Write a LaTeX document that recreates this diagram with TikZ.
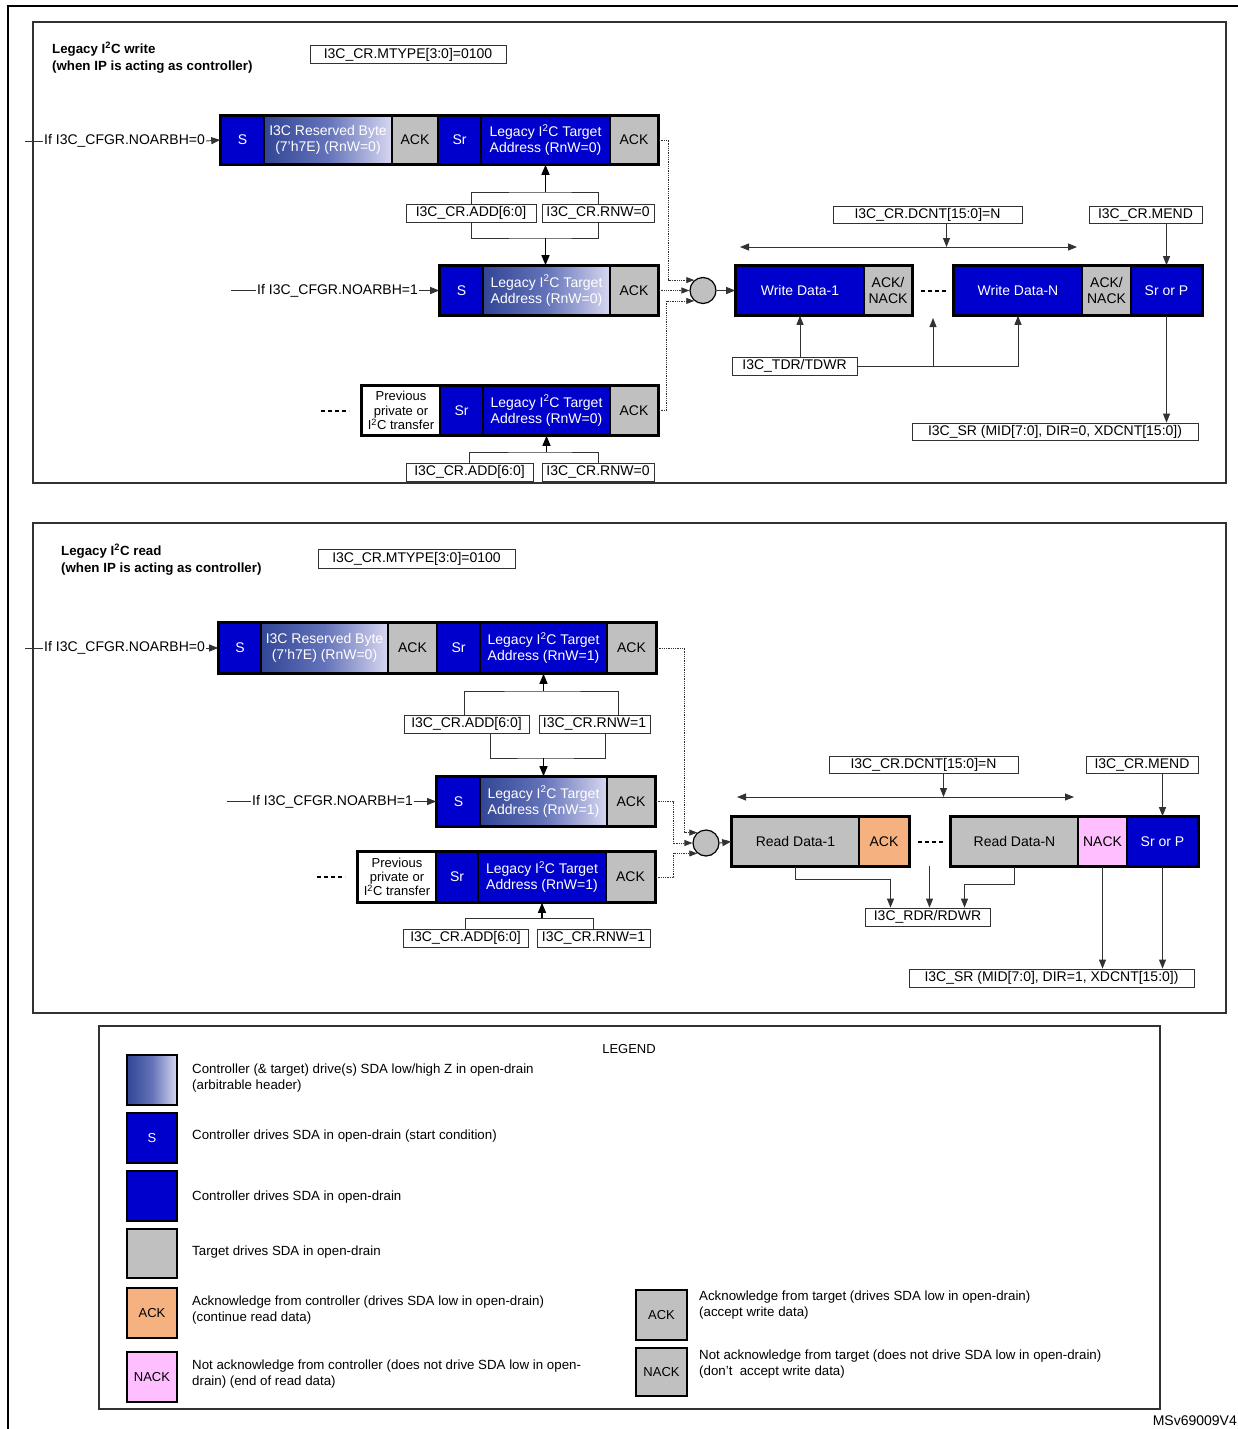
\documentclass[tikz,border=0pt]{standalone}
\usepackage{fontspec}
\setmainfont{Liberation Sans}
\usetikzlibrary{arrows.meta}
\definecolor{cblue}{RGB}{0,0,205}
\definecolor{cgray}{RGB}{192,192,192}
\definecolor{corange}{RGB}{245,178,128}
\definecolor{cpink}{RGB}{255,190,255}
\definecolor{gL}{RGB}{50,70,150}
\definecolor{gM}{RGB}{100,115,185}
\definecolor{gR}{RGB}{215,215,240}
\definecolor{lnc}{RGB}{50,50,50}
\newcommand\blk[7]{\node[#1, minimum width={(#4)-(#3)}, minimum height={(#6)-(#5)}] (#2) at ({((#3)+(#4))/2},{((#5)+(#6))/2}) {#7};}
\tikzset{
 seg/.style={draw=black, line width=1.6pt, inner sep=0pt, align=center, font=\fontsize{14}{16}\selectfont},
 sb/.style={seg, fill=cblue, text=white},
 sg/.style={seg, fill=cgray, text=black},
 sgr/.style={seg, left color=gL, right color=gR, middle color=gM, text=white},
 sw/.style={seg, fill=white, text=black, font=\fontsize{13}{14.3}\selectfont},
 so/.style={seg, fill=corange, text=black},
 sp/.style={seg, fill=cpink, text=black},
 reg/.style={draw=lnc, line width=0.8pt, fill=white, inner sep=0pt, font=\fontsize{14}{16}\selectfont},
 arr/.style={draw=lnc, line width=0.9pt, -{Triangle[length=9pt,width=7pt]}},
 darr/.style={draw=lnc, line width=0.9pt, {Triangle[length=9pt,width=7pt]}-{Triangle[length=9pt,width=7pt]}},
 barr/.style={draw=black, line width=1.2pt, -{Triangle[length=10pt,width=8pt]}},
 lin/.style={draw=lnc, line width=0.9pt},
 dotc/.style={draw=lnc, line width=0.8pt, densely dotted, -{Triangle[length=8pt,width=6pt]}},
 panel/.style={draw=lnc, line width=1.2pt},
 outer/.style={draw=black, line width=2.6pt},
 lbl/.style={inner sep=1pt, font=\fontsize{14}{16}\selectfont},
 ttl/.style={inner sep=0pt, align=left, font=\bfseries\fontsize{13.3}{16.2}\selectfont, anchor=north west},
 dashes/.style={line width=2pt, dash pattern=on 4pt off 3pt},
 circ/.style={circle, draw=black, line width=1.2pt, fill=cgray, minimum size=26pt, inner sep=0pt},
 lg/.style={seg, line width=2.4pt, font=\fontsize{13}{15}\selectfont},
 lgt/.style={anchor=west, inner sep=0pt, align=left, font=\fontsize{13.3}{16}\selectfont},
}
\begin{document}
\begin{tikzpicture}[x=1pt,y=-1pt]
\useasboundingbox (0,0) rectangle (1238,1429);
% outer frame
\draw[line width=2.5pt] (8,1429) -- (8,6) -- (1238,6);

% ================= PANEL 1 (write) =================
\draw[panel] (33,22) rectangle (1226,483);
\node[ttl] (wti) at (52,42) {Legacy I\textsuperscript{2}C write\\(when IP is acting as controller)};
\node[reg, minimum width=196pt, minimum height=18pt] (wmt) at (408,54.5) {I3C\_CR.MTYPE[3:0]=0100};

% row 1
\blk{sb}{wa1}{221}{264}{116}{164}{S}
\blk{sgr}{wa2}{264}{392}{116}{164}{I3C Reserved Byte\\(7'h7E) (RnW=0)}
\blk{sg}{wa3}{392}{438}{116}{164}{ACK}
\blk{sb}{wa4}{438}{481}{116}{164}{Sr}
\blk{sb}{wa5}{481}{610}{116}{164}{Legacy I\textsuperscript{2}C Target\\Address (RnW=0)}
\blk{sg}{wa6}{610}{658}{116}{164}{ACK}
\draw[outer] (wa1.north west) rectangle (wa6.south east);
\coordinate (wl1s) at (25,141);
\node[lbl, anchor=west] (wl1) at (43,141) {If I3C\_CFGR.NOARBH=0};
\draw[lin] (wl1s) -- (wl1.west);
\draw[arr] (wl1.east) -- (wa1.west);

% brackets row1 -> row2
\node[reg, minimum width=130pt, minimum height=18pt] (wadd1) at (471,213) {I3C\_CR.ADD[6:0]};
\node[reg, minimum width=112pt, minimum height=18pt] (wrnw1) at (598,213) {I3C\_CR.RNW=0};
\coordinate (wj1) at (545.5,192);
\coordinate (wj2) at (545.5,238);
\draw[lin] (wadd1.north) |- (wj1) -| (wrnw1.north);
\draw[barr] (wj1) -- (wa5.south);
\draw[lin] (wadd1.south) |- (wj2) -| (wrnw1.south);

% row 2
\blk{sb}{wb1}{440}{483}{266}{315}{S}
\blk{sgr}{wb2}{483}{610}{266}{315}{Legacy I\textsuperscript{2}C Target\\Address (RnW=0)}
\blk{sg}{wb3}{610}{658}{266}{315}{ACK}
\draw[outer] (wb1.north west) rectangle (wb3.south east);
\draw[barr] (wj2) -- (wj2 |- wb2.north);
\coordinate (wl2s) at (231,290.5);
\node[lbl, anchor=west] (wl2) at (256,290.5) {If I3C\_CFGR.NOARBH=1};
\draw[lin] (wl2s) -- (wl2.west);
\draw[arr] (wl2.east) -- (wb1.west);

% row 3
\blk{sw}{wc0}{362}{440}{386}{435}{Previous\\private or\\I\textsuperscript{2}C transfer}
\blk{sb}{wc1}{440}{483}{386}{435}{Sr}
\blk{sb}{wc2}{483}{610}{386}{435}{Legacy I\textsuperscript{2}C Target\\Address (RnW=0)}
\blk{sg}{wc3}{610}{658}{386}{435}{ACK}
\draw[outer] (wc0.north west) rectangle (wc3.south east);
\draw[dashes] ([xshift=-40pt]wc0.west) -- ([xshift=-12pt]wc0.west);
\node[reg, minimum width=127pt, minimum height=18pt] (wadd3) at (469.5,472) {I3C\_CR.ADD[6:0]};
\node[reg, minimum width=112pt, minimum height=18pt] (wrnw3) at (598,472) {I3C\_CR.RNW=0};
\coordinate (wj3) at (546.5,452);
\draw[lin] (wadd3.north) |- (wj3) -| (wrnw3.north);
\draw[barr] (wj3) -- (wc2.south);

% merge circle
\node[circ] (wcirc) at (703,290.5) {};
\draw[dotc] (wa6.east) -- ++(10,0) |- (wcirc.130);
\draw[dotc] (wb3.east) -- (wcirc.west);
\draw[dotc] (wc3.east) -- ++(8,0) |- (wcirc.230);

% data row
\blk{sb}{wd1}{736}{864}{266}{315}{Write Data-1}
\blk{sg}{wd2}{864}{912}{266}{315}{ACK/\\NACK}
\blk{sb}{wd3}{954}{1082}{266}{315}{Write Data-N}
\blk{sg}{wd4}{1082}{1131}{266}{315}{ACK/\\NACK}
\blk{sb}{wd5}{1131}{1202}{266}{315}{Sr or P}
\draw[outer] (wd1.north west) rectangle (wd2.south east);
\draw[outer] (wd3.north west) rectangle (wd5.south east);
\draw[dashes] ([xshift=8pt]wd2.east) -- ([xshift=-7pt]wd3.west);
\draw[arr] (wcirc.east) -- (wd1.west);

\node[reg, minimum width=189pt, minimum height=17pt] (wdc) at (927.5,215) {I3C\_CR.DCNT[15:0]=N};
\node[reg, minimum width=113pt, minimum height=17pt] (wme) at (1145.5,215) {I3C\_CR.MEND};
\coordinate (wdl) at (740,247);
\coordinate (wdr) at (1077,247);
\draw[darr] (wdl) -- (wdr);
\coordinate (wdca) at ([xshift=19pt]wdc.south);
\draw[arr] (wdca) -- (wdca |- wdl);
\draw[arr] (wd5.north |- wme.south) -- (wd5.north);

\node[reg, minimum width=286pt, minimum height=17pt] (wsr) at (1055,431.5) {I3C\_SR (MID[7:0], DIR=0, XDCNT[15:0])};
\draw[arr] (wd5.south) -- (wd5.south |- wsr.north);

\node[reg, minimum width=125pt, minimum height=18pt] (wtd) at (794.5,366) {I3C\_TDR/TDWR};
\draw[arr] (wd1.south |- wtd.north) -- (wd1.south);
\coordinate (wgap) at (933,318);
\draw[arr] (wtd.east) -- (wd3.south |- wtd.east) -- (wd3.south);
\draw[arr] (wgap |- wtd.east) -- (wgap);

% ================= PANEL 2 (read) =================
\draw[panel] (33,523) rectangle (1226,1013);
\node[ttl] (rti) at (61,544) {Legacy I\textsuperscript{2}C read\\(when IP is acting as controller)};
\node[reg, minimum width=197pt, minimum height=19pt] (rmt) at (416.5,558.5) {I3C\_CR.MTYPE[3:0]=0100};

% row 1
\blk{sb}{ra1}{219}{261}{623}{673}{S}
\blk{sgr}{ra2}{261}{388}{623}{673}{I3C Reserved Byte\\(7'h7E) (RnW=0)}
\blk{sg}{ra3}{388}{437}{623}{673}{ACK}
\blk{sb}{ra4}{437}{480}{623}{673}{Sr}
\blk{sb}{ra5}{480}{607}{623}{673}{Legacy I\textsuperscript{2}C Target\\Address (RnW=1)}
\blk{sg}{ra6}{607}{656}{623}{673}{ACK}
\draw[outer] (ra1.north west) rectangle (ra6.south east);
\coordinate (rl1s) at (25,648);
\node[lbl, anchor=west] (rl1) at (43,648) {If I3C\_CFGR.NOARBH=0};
\draw[lin] (rl1s) -- (rl1.west);
\draw[arr] (rl1.east) -- (ra1.west);

\node[reg, minimum width=125pt, minimum height=18pt] (radd1) at (466.5,724) {I3C\_CR.ADD[6:0]};
\node[reg, minimum width=111pt, minimum height=18pt] (rrnw1) at (594.5,724) {I3C\_CR.RNW=1};
\coordinate (rj1) at (543.5,691);
\coordinate (rj2) at (543.5,758);
\coordinate (rt1) at (464,715);
\coordinate (rt2) at (618,715);
\coordinate (rb1c) at (490,733);
\coordinate (rb2c) at (605,733);
\draw[lin] (rt1) |- (rj1) -| (rt2);
\draw[barr] (rj1) -- (ra5.south);
\draw[lin] (rb1c) |- (rj2) -| (rb2c);

% row 2
\blk{sb}{rb1}{437}{480}{777}{826}{S}
\blk{sgr}{rb2}{480}{607}{777}{826}{Legacy I\textsuperscript{2}C Target\\Address (RnW=1)}
\blk{sg}{rb3}{607}{655}{777}{826}{ACK}
\draw[outer] (rb1.north west) rectangle (rb3.south east);
\draw[barr] (rj2) -- (rj2 |- rb2.north);
\coordinate (rl2s) at (227,801.5);
\node[lbl, anchor=west] (rl2) at (251,801.5) {If I3C\_CFGR.NOARBH=1};
\draw[lin] (rl2s) -- (rl2.west);
\draw[arr] (rl2.east) -- (rb1.west);

% row 3
\blk{sw}{rc0}{358}{436}{852}{902}{Previous\\private or\\I\textsuperscript{2}C transfer}
\blk{sb}{rc1}{436}{478}{852}{902}{Sr}
\blk{sb}{rc2}{478}{606}{852}{902}{Legacy I\textsuperscript{2}C Target\\Address (RnW=1)}
\blk{sg}{rc3}{606}{655}{852}{902}{ACK}
\draw[outer] (rc0.north west) rectangle (rc3.south east);
\draw[dashes] ([xshift=-40pt]rc0.west) -- ([xshift=-12pt]rc0.west);
\node[reg, minimum width=125pt, minimum height=18pt] (radd3) at (465.5,938) {I3C\_CR.ADD[6:0]};
\node[reg, minimum width=113pt, minimum height=18pt] (rrnw3) at (593.5,938) {I3C\_CR.RNW=1};
\coordinate (rj3) at (542,918);
\draw[lin] (radd3.north) |- (rj3) -| (rrnw3.north);
\draw[barr] (rj3) -- (rc2.south);

% merge circle
\node[circ] (rcirc) at (706,843) {};
\draw[dotc] (ra6.east) -- ++(28,0) |- (rcirc.130);
\draw[dotc] (rb3.east) -- ++(18,0) |- (rcirc.west);
\draw[dotc] (rc3.east) -- ++(18,0) |- (rcirc.230);

% data row
\blk{sg}{rd1}{732}{859}{817}{866}{Read Data-1}
\blk{so}{rd2}{859}{909}{817}{866}{ACK}
\blk{sg}{rd3}{951}{1078}{817}{866}{Read Data-N}
\blk{sp}{rd4}{1078}{1127}{817}{866}{NACK}
\blk{sb}{rd5}{1127}{1198}{817}{866}{Sr or P}
\draw[outer] (rd1.north west) rectangle (rd2.south east);
\draw[outer] (rd3.north west) rectangle (rd5.south east);
\draw[dashes] ([xshift=8pt]rd2.east) -- ([xshift=-7pt]rd3.west);
\draw[arr] (rcirc.east) -- (rd1.west);

\node[reg, minimum width=189pt, minimum height=17pt] (rdc) at (923.5,764.5) {I3C\_CR.DCNT[15:0]=N};
\node[reg, minimum width=112pt, minimum height=17pt] (rme) at (1142,764.5) {I3C\_CR.MEND};
\coordinate (rdl) at (737,797);
\coordinate (rdr) at (1074,797);
\draw[darr] (rdl) -- (rdr);
\coordinate (rdca) at ([xshift=20pt]rdc.south);
\draw[arr] (rdca) -- (rdca |- rdl);
\draw[arr] (rd5.north |- rme.south) -- (rd5.north);

\node[reg, minimum width=125pt, minimum height=18pt] (rrd) at (927.5,917) {I3C\_RDR/RDWR};
\coordinate (rrdl) at ([xshift=-37pt]rrd.north);
\coordinate (rrdr) at ([xshift=37pt]rrd.north);
\draw[arr] (rd1.south) -- ++(0,13) -| (rrdl);
\draw[arr] (rd3.south) -- ++(0,18) -| (rrdr);
\coordinate (rgap) at (929.5,866);
\draw[arr] (rgap) -- (rgap |- rrd.north);

\node[reg, minimum width=285pt, minimum height=18pt] (rsr) at (1051.5,978) {I3C\_SR (MID[7:0], DIR=1, XDCNT[15:0])};
\draw[arr] (rd4.south) -- (rd4.south |- rsr.north);
\draw[arr] (rd5.south) -- (rd5.south |- rsr.north);

% ================= LEGEND =================
\draw[panel] (99,1026) rectangle (1160,1409);
\node[inner sep=0pt, font=\fontsize{13}{15}\selectfont] (lgh) at (629,1049) {LEGEND};

\blk{lg, left color=gL, right color=gR, middle color=gM}{lg1}{127}{177}{1055}{1105}{}
\blk{lg, fill=cblue, text=white}{lg2}{127}{177}{1113}{1163}{S}
\blk{lg, fill=cblue}{lg3}{127}{177}{1171}{1221}{}
\blk{lg, fill=cgray}{lg4}{127}{177}{1229}{1278}{}
\blk{lg, fill=corange}{lg5}{127}{177}{1288}{1338}{ACK}
\blk{lg, fill=cpink}{lg6}{127}{177}{1352}{1402}{NACK}
\blk{lg, fill=cgray}{lg7}{636}{687}{1290}{1340}{ACK}
\blk{lg, fill=cgray}{lg8}{636}{687}{1348}{1396}{NACK}

\node[lgt] (lt1) at (192,1078) {Controller (\& target) drive(s) SDA low/high Z in open-drain\\(arbitrable header)};
\node[lgt] (lt2) at (192,1136) {Controller drives SDA in open-drain (start condition)};
\node[lgt] (lt3) at (192,1197) {Controller drives SDA in open-drain};
\node[lgt] (lt4) at (192,1252) {Target drives SDA in open-drain};
\node[lgt] (lt5) at (192,1310) {Acknowledge from controller (drives SDA low in open-drain)\\(continue read data)};
\node[lgt] (lt6) at (192,1374) {Not acknowledge from controller (does not drive SDA low in open-\\drain) (end of read data)};
\node[lgt] (lt7) at (699,1305.5) {Acknowledge from target (drives SDA low in open-drain)\\(accept write data)};
\node[lgt] (lt8) at (699,1364) {Not acknowledge from target (does not drive SDA low in open-drain)\\(don't\ \ accept write data)};

\node[anchor=base east, inner sep=0pt, font=\fontsize{14}{16}\selectfont] (msv) at (1237,1425) {MSv69009V4};
\end{tikzpicture}
\end{document}
